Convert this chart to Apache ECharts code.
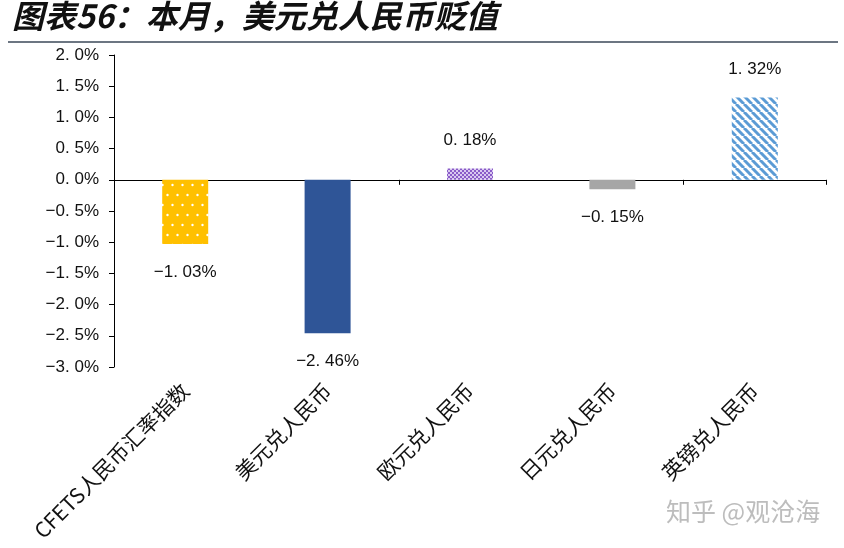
<!DOCTYPE html>
<html>
<head>
<meta charset="utf-8">
<script src="https://cdn.jsdelivr.net/npm/echarts@6/dist/echarts.min.js"></script>
<style>
  html, body { margin: 0; padding: 0; background: #fff; }
  #chart { width: 844px; height: 548px; }
</style>
</head>
<body>
<div id="chart"></div>
<script>
const categories = ['CFETS人民币汇率指数', '美元兑人民币', '欧元兑人民币', '日元兑人民币', '英镑兑人民币']
const changes = [-1.03, -2.46, 0.18, -0.15, 1.32]
const yTicks = { min: -3, max: 2, step: 0.5 }

// the source prints "2. 0%" style numbers with a long minus sign
const fmtNum = (v, d) => (v < 0 ? '\u2212' : '') + Math.abs(v).toFixed(d).replace('.', '. ') + '%'

// small canvas tiles for the hatched fills
const tile = (w, h, draw) => {
  const c = document.createElement('canvas')
  c.width = w
  c.height = h
  draw(c.getContext('2d'))
  return { image: c, repeat: 'repeat' }
}

const dots = tile(10, 20, ctx => {
  ctx.fillStyle = '#FFC000'
  ctx.fillRect(0, 0, 10, 20)
  ctx.fillStyle = '#fff'
  ctx.beginPath(); ctx.arc(2.5, 5, 1.2, 0, Math.PI * 2); ctx.fill()
  ctx.beginPath(); ctx.arc(7.5, 15, 1.2, 0, Math.PI * 2); ctx.fill()
})

const checker = tile(4, 4, ctx => {
  ctx.fillStyle = '#d9c9f0'
  ctx.fillRect(0, 0, 4, 4)
  ctx.fillStyle = '#8a5cc8'
  ctx.fillRect(0, 0, 2, 2)
  ctx.fillRect(2, 2, 2, 2)
})

const stripes = tile(8, 8, ctx => {
  ctx.fillStyle = '#fff'
  ctx.fillRect(0, 0, 8, 8)
  ctx.strokeStyle = '#5b9bd5'
  ctx.lineWidth = 3
  for (let k = -8; k <= 16; k += 8) {
    ctx.beginPath()
    ctx.moveTo(k, 0)
    ctx.lineTo(k + 8, 8)
    ctx.stroke()
  }
})

const fills = [dots, '#2F5597', checker, '#A6A6A6', stripes]

const chart = echarts.init(document.getElementById('chart'))

chart.setOption({
  animation: false,
  textStyle: { fontFamily: 'Arial, "Liberation Sans", "Noto Sans CJK SC", sans-serif' },
  graphic: [
    {
      type: 'text',
      left: 12,
      top: 0,
      style: {
        text: '图表56：本月，美元兑人民币贬值',
        font: 'italic bold 32px "Noto Sans CJK SC", sans-serif',
        fill: '#111',
      },
    },
    {
      type: 'line',
      shape: { x1: 8, y1: 42, x2: 838, y2: 42 },
      style: { stroke: '#3b4858', lineWidth: 1.5 },
    },
    {
      type: 'text',
      left: 666,
      top: 499,
      style: {
        text: '知乎 @观沧海',
        font: '25px "Noto Sans CJK SC", sans-serif',
        fill: '#bdbdbd',
      },
    },
  ],
  grid: {
    left: 114,
    right: 18,
    top: 55,
    bottom: 181,
  },
  xAxis: [
    {
      type: 'category',
      data: categories,
      axisLine: { onZero: true, lineStyle: { color: '#000', width: 1 } },
      axisTick: { show: true, inside: false, length: 5, lineStyle: { color: '#000' } },
      axisLabel: { show: false },
    },
    {
      type: 'category',
      data: categories,
      position: 'bottom',
      axisLine: { show: false, onZero: false },
      axisTick: { show: false },
      axisLabel: {
        rotate: 45,
        margin: 20,
        interval: 0,
        fontSize: 21,
        color: '#111',
        fontFamily: '"Noto Sans CJK SC", sans-serif',
      },
    },
  ],
  yAxis: {
    type: 'value',
    min: yTicks.min,
    max: yTicks.max,
    interval: yTicks.step,
    axisLine: { show: true, lineStyle: { color: '#000' } },
    axisTick: { show: true, length: 5, lineStyle: { color: '#000' } },
    splitLine: { show: false },
    axisLabel: {
      formatter: v => fmtNum(v, 1),
      fontSize: 17,
      color: '#111',
      margin: 15,
    },
  },
  series: [
    {
      type: 'bar',
      xAxisIndex: 0,
      barWidth: 46,
      data: changes.map((v, i) => ({
        value: v,
        itemStyle: { color: fills[i] },
        label: { position: v < 0 ? 'bottom' : 'top' },
      })),
      label: {
        show: true,
        distance: 20,
        fontSize: 17,
        color: '#111',
        formatter: p => fmtNum(p.value, 2),
      },
    },
  ],
})
</script>
</body>
</html>
